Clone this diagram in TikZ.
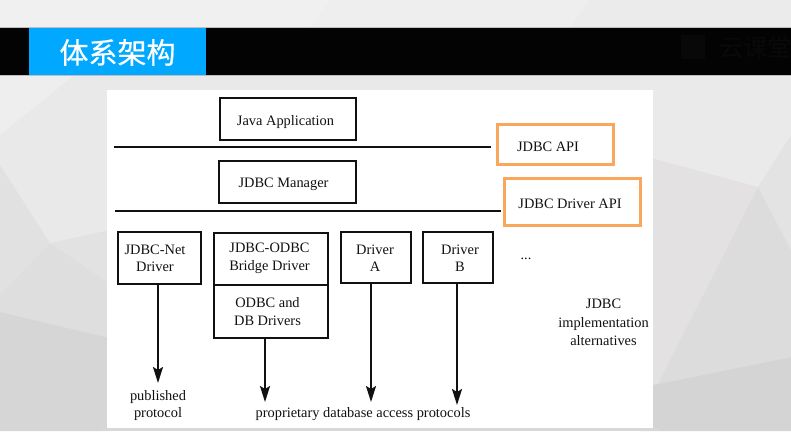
\documentclass[tikz,border=0pt]{standalone}
\usepackage{fontspec}
\setmainfont{Liberation Serif}
\newfontfamily\cjkfont[FakeBold=0.6]{Noto Sans CJK SC}
\usetikzlibrary{arrows.meta,calc}
\definecolor{barblue}{HTML}{00A8FF}
\definecolor{hiorange}{HTML}{F9A75C}
\definecolor{inkblack}{HTML}{111111}
\tikzset{
  box/.style={draw=inkblack,line width=2pt,inner sep=0pt,outer sep=0pt,align=center,font=\diagfont},
  hibox/.style={draw=hiorange,line width=3pt,inner sep=0pt,outer sep=0pt},
  lbl/.style={inner sep=0pt,outer sep=0pt,align=center,text=inkblack,font=\diagfont,yshift=-2pt},
  rule/.style={draw=inkblack,line width=2pt},
  flow/.style={draw=inkblack,line width=2pt,-{Stealth[length=16pt,width=10pt,inset=3pt]}}
}
\newcommand{\diagfont}{\fontsize{14.4}{18.5}\selectfont}
\begin{document}
\begin{tikzpicture}[x=1pt,y=-1pt]
\useasboundingbox (0,0) rectangle (791,431);
% background facets
\fill[color={rgb,255:red,238;green,238;blue,238}] (0,0) rectangle (791,431);
\fill[color={rgb,255:red,240;green,240;blue,240}] (0,0) -- (330,0) -- (310,28) -- (0,28) -- cycle;
\fill[color={rgb,255:red,235;green,235;blue,235}] (590,0) -- (791,0) -- (791,28) -- (570,28) -- cycle;
\fill[color={rgb,255:red,233;green,233;blue,233}] (0,75) rectangle (791,95);
\fill[color={rgb,255:red,238;green,238;blue,238}] (0,75) -- (75,75) -- (0,135) -- cycle;
\fill[color={rgb,255:red,233;green,233;blue,233}] (0,135) -- (75,75) -- (110,75) -- (110,230) -- (50,243) -- (0,165) -- cycle;
\fill[color={rgb,255:red,226;green,225;blue,225}] (0,165) -- (50,243) -- (0,295) -- cycle;
\fill[color={rgb,255:red,227;green,226;blue,226}] (50,243) -- (110,230) -- (110,284) -- cycle;
\fill[color={rgb,255:red,222;green,222;blue,222}] (50,243) -- (110,284) -- (110,338) -- (0,312) -- (0,295) -- cycle;
\fill[color={rgb,255:red,215;green,214;blue,215}] (0,312) -- (110,338) -- (110,431) -- (0,431) -- cycle;
\fill[color={rgb,255:red,234;green,234;blue,234}] (640,75) -- (791,75) -- (791,135) -- (758,187) -- (640,155) -- cycle;
\fill[color={rgb,255:red,228;green,227;blue,227}] (758,187) -- (791,135) -- (791,250) -- cycle;
\fill[color={rgb,255:red,227;green,225;blue,225}] (640,155) -- (758,187) -- (658,384) -- (640,386) -- cycle;
\fill[color={rgb,255:red,220;green,220;blue,220}] (758,187) -- (791,250) -- (791,357) -- (658,384) -- cycle;
\fill[color={rgb,255:red,213;green,212;blue,213}] (640,386) -- (658,384) -- (791,357) -- (791,431) -- (640,431) -- cycle;
\fill[color={rgb,255:red,216;green,216;blue,216}] (100,428) rectangle (660,431);
% title bar
\fill[color={rgb,255:red,3;green,3;blue,3}] (0,28) rectangle (791,75);
\draw[color={rgb,255:red,190;green,190;blue,190},line width=0.8pt] (0,27.6) -- (791,27.6) (0,75.4) -- (791,75.4);
\fill[barblue] (29,28) rectangle (206,75);
\node[inner sep=0pt,text=white,font=\cjkfont\fontsize{29}{29}\selectfont] (title) at (117.5,52.5) {体系架构};
\node[inner sep=0pt,fill={rgb,255:red,8;green,8;blue,8},minimum width=24pt,minimum height=24pt] (wmicon) at (693,47) {};
\node[inner sep=0pt,anchor=west,text={rgb,255:red,9;green,9;blue,9},font=\cjkfont\fontsize{24}{24}\selectfont] (wmtext) at (719,47) {云课堂};
% white panel
\fill[white] (107,90) rectangle (653,428);
% boxes
\node[box,minimum width=136pt,minimum height=42pt] (app) at (288,119) {};
\node[lbl] (applbl) at (285.5,120) {Java Application};
\node[box,minimum width=137pt,minimum height=42pt] (mgr) at (287.5,182) {};
\node[lbl] (mgrlbl) at (283.5,182) {JDBC Manager};
\node[box,minimum width=83pt,minimum height=52pt] (net) at (159.5,258) {};
\node[lbl] (netlbl) at (155,256.5) {JDBC-Net\\[-1.5pt]Driver};
\node[box,minimum width=114pt,minimum height=52pt] (bridge) at (271,259) {};
\node[lbl] (bridgelbl) at (269.5,256.5) {JDBC-ODBC\\[-0.5pt]Bridge Driver};
\node[box,minimum width=114pt,minimum height=53pt] (odbc) at (271,311.5) {};
\node[lbl] (odbclbl) at (267.5,309.5) {ODBC and\\[-0.5pt]DB Drivers};
\node[box,minimum width=70pt,minimum height=51pt] (da) at (376,257.5) {};
\node[lbl] (dalbl) at (375,256) {Driver\\[-1.5pt]A};
\node[box,minimum width=70pt,minimum height=51pt] (db) at (458,257.5) {};
\node[lbl] (dblbl) at (460,256.5) {Driver\\[-1.5pt]B};
% API highlights
\node[hibox,minimum width=116pt,minimum height=40pt] (api) at (555,144) {};
\node[lbl] (apilbl) at (548,144.5) {JDBC API};
\node[hibox,minimum width=136pt,minimum height=47pt] (dapi) at (572,201.5) {};
\node[lbl] (dapilbl) at (570,201.5) {JDBC Driver API};
% rules
\coordinate (r1a) at (114,147);
\coordinate (r1b) at (491,147);
\coordinate (r2a) at (115,211);
\coordinate (r2b) at (501,211);
\draw[rule] (r1a) -- (r1b);
\draw[rule] (r2a) -- (r2b);
% free labels
\node[lbl] (dots) at (526,257) {...};
\node[lbl] (alts) at (603.5,320.5) {JDBC\\implementation\\alternatives};
\node[lbl] (pub) at (158,403.5) {published\\[-2pt]protocol};
\node[lbl] (prop) at (363,412) {proprietary database access protocols};
% arrows
\coordinate (e1) at (158,383);
\coordinate (e2) at (265,402);
\coordinate (e3) at (371,402);
\coordinate (e4) at (457,405);
\draw[flow] (net.south -| e1) -- (e1);
\draw[flow] (odbc.south -| e2) -- (e2);
\draw[flow] (da.south -| e3) -- (e3);
\draw[flow] (db.south -| e4) -- (e4);
\end{tikzpicture}
\end{document}
